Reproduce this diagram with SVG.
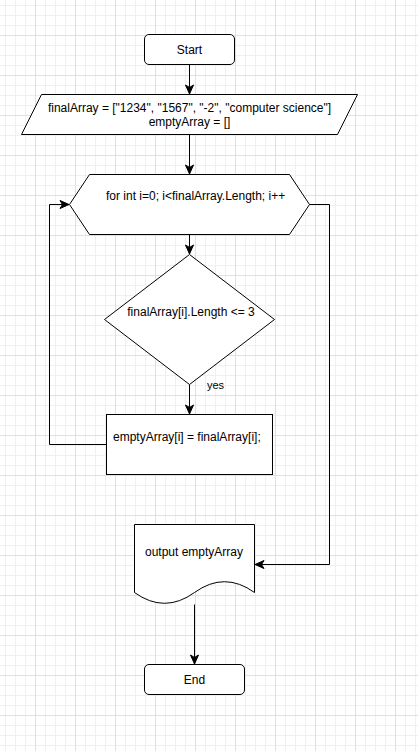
<svg xmlns="http://www.w3.org/2000/svg" width="418" height="751" viewBox="0 0 418 751">
<style>
.shape{fill:#ffffff;stroke:#000000;stroke-width:1}
.lbl{font-family:"Liberation Sans",Arial,Helvetica,sans-serif;font-size:12px;fill:#000000}
.mid{text-anchor:middle}
.edge{fill:none;stroke:#000000;stroke-width:1}
</style>
<defs>
<pattern id="grid" patternUnits="userSpaceOnUse" x="35" y="35" width="40" height="40">
<path d="M10.5,0V40M20.5,0V40M30.5,0V40M0,10.5H40M0,20.5H40M0,30.5H40" stroke="#f0f0f0" stroke-width="1" fill="none"/>
<path d="M0.5,0V40M0,0.5H40" stroke="#e0e0e0" stroke-width="1" fill="none"/>
</pattern>
<marker id="arr" markerUnits="userSpaceOnUse" markerWidth="12" markerHeight="10" viewBox="0 0 12 10" refX="10" refY="5" orient="auto">
<path d="M1,1 L10,5 L1,9 L3.5,5 Z" fill="#000000" stroke="#000000" stroke-width="1"/>
</marker>
</defs>
<rect x="0" y="0" width="418" height="751" fill="#ffffff"/>
<rect x="0" y="0" width="418" height="751" fill="url(#grid)"/>

<g id="connectors">
<path class="edge" d="M189.5,64.5 V94" marker-end="url(#arr)"/>
<path class="edge" d="M189.5,134.5 V174" marker-end="url(#arr)"/>
<path class="edge" d="M189.5,234.5 V254" marker-end="url(#arr)"/>
<path class="edge" d="M189.5,384.5 V414" marker-end="url(#arr)"/>
<path class="edge" d="M106.5,444.5 H49.5 V204.5 H69" marker-end="url(#arr)"/>
<path class="edge" d="M309.5,204.5 H329.5 V564.5 H255" marker-end="url(#arr)"/>
<path class="edge" d="M194.5,604.5 V664" marker-end="url(#arr)"/>
<text class="lbl" x="207" y="389" style="font-size:11px">yes</text>
</g>

<g id="start">
<rect class="shape" x="144.5" y="34.5" width="90" height="30" rx="4.5" ry="4.5"/>
<text class="lbl mid" x="189.5" y="53.5">Start</text>
</g>

<g id="init">
<polygon class="shape" points="41.5,94.5 357.5,94.5 337.5,134.5 21.5,134.5"/>
<text class="lbl mid" x="189.5" y="111.5">finalArray = ["1234", "1567", "-2", "computer science"]</text>
<text class="lbl mid" x="189.5" y="126">emptyArray = []</text>
</g>

<g id="loop">
<polygon class="shape" points="69.5,204.5 89.5,174.5 289.5,174.5 309.5,204.5 289.5,234.5 89.5,234.5"/>
<text class="lbl" x="106" y="200">for int i=0; i&lt;finalArray.Length; i++</text>
</g>

<g id="condition">
<polygon class="shape" points="189.5,254.5 274.5,319.5 189.5,384.5 104.5,319.5"/>
<text class="lbl mid" x="191" y="315.5">finalArray[i].Length &lt;= 3</text>
</g>

<g id="assign">
<rect class="shape" x="106.5" y="414.5" width="166" height="60"/>
<text class="lbl" x="113" y="441">emptyArray[i] = finalArray[i];</text>
</g>

<g id="output">
<path class="shape" d="M134.5,524.5 H254.5 V592.5 Q224.5,570.9 194.5,592.5 Q164.5,614.1 134.5,592.5 Z"/>
<text class="lbl mid" x="194" y="556">output emptyArray</text>
</g>

<g id="end">
<rect class="shape" x="144.5" y="664.5" width="100" height="30" rx="4.5" ry="4.5"/>
<text class="lbl mid" x="194.5" y="683.5">End</text>
</g>
</svg>
